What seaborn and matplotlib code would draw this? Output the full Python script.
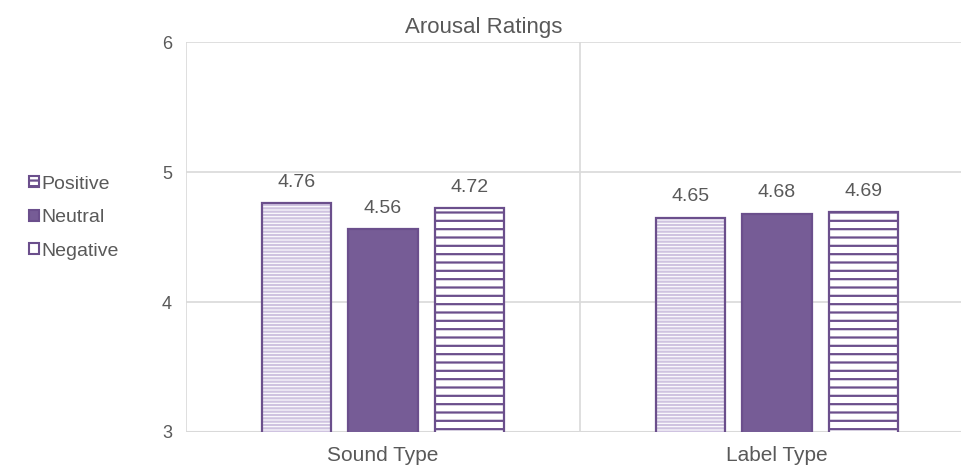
import pandas as pd
import seaborn as sns
import matplotlib.pyplot as plt
from matplotlib.patches import Patch, Rectangle

# data
categories = ['Sound Type', 'Label Type']
series = ['Positive', 'Neutral', 'Negative']
positive = [4.76, 4.65]
neutral = [4.56, 4.68]
negative = [4.72, 4.69]

df = pd.DataFrame({
    'cat': categories * 3,
    'series': ['Positive'] * 2 + ['Neutral'] * 2 + ['Negative'] * 2,
    'value': positive + neutral + negative,
})

sns.set_theme(style='white')
plt.rcParams['font.family'] = ['Liberation Sans', 'DejaVu Sans']
plt.rcParams['hatch.linewidth'] = 1.6

txt = '#595959'
edge = '#6B4F8C'
fill_neutral = '#765C96'
styles = {
    'Positive': dict(face='white', hatch='-----', hcol='#CFC3E0'),
    'Neutral': dict(face=fill_neutral, hatch='', hcol=fill_neutral),
    'Negative': dict(face='white', hatch='--', hcol=edge),
}

fig = plt.figure(figsize=(9.61, 4.68), dpi=100)
ax = fig.add_axes([0.1935, 0.077, 0.82, 0.833])

sns.barplot(data=df, x='cat', y='value', hue='series', hue_order=series,
            order=categories, width=0.66, gap=0.2, ax=ax, legend=False,
            palette=['white', fill_neutral, 'white'])

ax.set_ylim(3, 6)
ax.set_xlim(-0.5, 1.5)
ax.set_yticks([3, 4, 5, 6])

# bars: hatch drawn in hatch colour, then outline on top
for cont, name in zip(ax.containers, series):
    st = styles[name]
    for bar in cont.patches:
        bar.set_facecolor(st['face'])
        bar.set_edgecolor(st['hcol'])
        bar.set_hatch(st['hatch'])
        bar.set_linewidth(0)
        ax.add_patch(Rectangle((bar.get_x(), bar.get_y()), bar.get_width(),
                               bar.get_height(), fill=False, edgecolor=edge,
                               linewidth=1.6, zorder=3))
    ax.bar_label(cont, fmt='%.2f', padding=9, color=txt, fontsize=14)

# gridlines
for y in [4, 5, 6]:
    ax.axhline(y, color='#D9D9D9', lw=1.2, zorder=0)
for x in [-0.5, 0.5]:
    ax.axvline(x, color='#D9D9D9', lw=1.2, zorder=0)
for s in ax.spines.values():
    s.set_visible(False)
ax.axhline(3, color='#D9D9D9', lw=1.5, zorder=0)

ax.set_xlabel('')
ax.set_ylabel('')
ax.tick_params(axis='y', length=0, colors=txt, labelsize=13, pad=10)
ax.tick_params(axis='x', length=0, colors=txt, labelsize=15, pad=10)
fig.text(0.503, 0.942, 'Arousal Ratings', color=txt, fontsize=16,
         ha='center', va='center')

handles = [
    Patch(facecolor='white', edgecolor=edge, hatch='---', lw=1.5),
    Patch(facecolor=fill_neutral, edgecolor=edge, lw=1.5),
    Patch(facecolor='white', edgecolor=edge, hatch='-', lw=1.5),
]
fig.legend(handles, series, loc='center left', bbox_to_anchor=(0.03, 0.535),
           frameon=False, fontsize=14, labelcolor=txt, handlelength=0.5,
           handleheight=0.5, handletextpad=0.12, labelspacing=0.85,
           borderpad=0, borderaxespad=0)

plt.savefig('out.png', dpi=100)
